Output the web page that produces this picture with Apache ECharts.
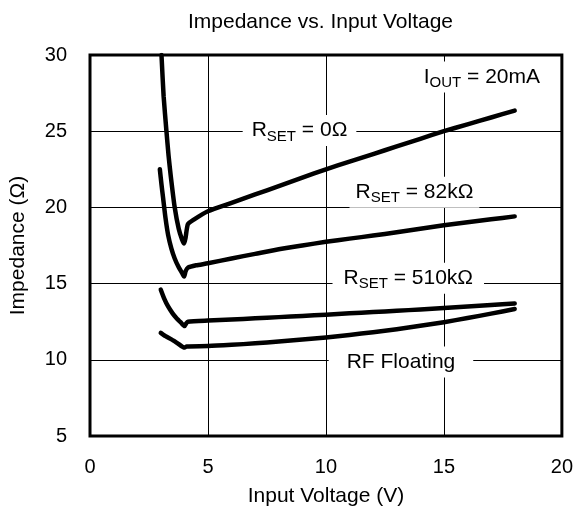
<!DOCTYPE html>
<html>
<head>
<meta charset="utf-8">
<title>Impedance vs. Input Voltage</title>
<script src="https://cdn.jsdelivr.net/npm/echarts@6/dist/echarts.min.js"></script>
<style>
  html, body { margin: 0; padding: 0; background: #fff; }
  #chart { width: 576px; height: 512px; }
</style>
</head>
<body>
<div id="chart"></div>
<script>
// values (V, Ohm)
const rset0V = [3.03, 3.12, 3.24, 3.33, 3.42, 3.59, 3.76, 3.9, 3.99, 4.05, 4.15, 4.4, 5, 6, 7, 8, 9, 10, 11, 12, 13, 14, 15, 16, 17, 18]
const rset0Z = [30, 27.3, 25, 23.4, 22.1, 20.0, 18.6, 17.9, 17.63, 18.0, 18.9, 19.2, 19.75, 20.3, 20.85, 21.4, 21.95, 22.5, 23.0, 23.5, 24.0, 24.5, 25.0, 25.45, 25.9, 26.35]

const rset82V = [2.96, 3.03, 3.1, 3.2, 3.31, 3.45, 3.59, 3.75, 3.9, 3.99, 4.05, 4.15, 4.5, 5, 6, 7, 8, 9, 10, 11, 12, 13, 14, 15, 16, 17, 18]
const rset82Z = [22.5, 21.5, 20.6, 19.3, 18.2, 17.3, 16.65, 16.1, 15.7, 15.46, 15.8, 16.05, 16.2, 16.33, 16.65, 16.95, 17.25, 17.5, 17.74, 17.95, 18.15, 18.37, 18.6, 18.83, 19.03, 19.22, 19.41]

const rset510V = [3.0, 3.15, 3.31, 3.5, 3.66, 3.85, 4.01, 4.08, 4.15, 5, 6, 7, 8, 9, 10, 11, 12, 13, 14, 15, 16, 17, 18]
const rset510Z = [14.6, 14.0, 13.5, 13.05, 12.75, 12.45, 12.21, 12.4, 12.5, 12.58, 12.65, 12.72, 12.8, 12.88, 12.96, 13.05, 13.13, 13.22, 13.3, 13.4, 13.5, 13.6, 13.7]

const rfFloatV = [3.0, 3.2, 3.45, 3.7, 4.01, 4.1, 5, 6, 7, 8, 9, 10, 11, 12, 13, 14, 15, 16, 17, 18]
const rfFloatZ = [11.77, 11.55, 11.34, 11.1, 10.8, 10.88, 10.9, 10.98, 11.08, 11.2, 11.33, 11.47, 11.63, 11.81, 12.01, 12.23, 12.47, 12.74, 13.03, 13.33]

// curve labels: text, anchor in data units, side padding
const notes = [
  { text: '{m|I}{s|OUT}{m| = 20mA}', at: [16.61, 28.55], pad: 5 },
  { text: '{m|R}{s|SET}{m| = 0Ω}', at: [8.88, 25.05], pad: 9 },
  { text: '{m|R}{s|SET}{m| = 82kΩ}', at: [13.75, 21.0], pad: 6 },
  { text: '{m|R}{s|SET}{m| = 510kΩ}', at: [13.49, 15.35], pad: 11 },
  { text: '{m|RF Floating}', at: [13.18, 9.85], pad: 18 }
]

const FONT = "'Liberation Sans', Arial, sans-serif"

function pairs(xs, ys) {
  return xs.map((x, i) => [x, ys[i]])
}

const chart = echarts.init(document.getElementById('chart'))

const lineStyle = { color: '#000', width: 4.5, cap: 'round', join: 'round' }

function curve(name, xs, ys) {
  return {
    name,
    type: 'line',
    data: pairs(xs, ys),
    showSymbol: false,
    smooth: 0.2,
    lineStyle,
    z: 3
  }
}

const series = [
  curve('RSET = 0Ω', rset0V, rset0Z),
  curve('RSET = 82kΩ', rset82V, rset82Z),
  curve('RSET = 510kΩ', rset510V, rset510Z),
  curve('RF Floating', rfFloatV, rfFloatZ)
]

series[0].markPoint = {
  symbol: 'rect',
  symbolSize: 0,
  silent: true,
  z: 2,
  data: notes.map(n => ({
    coord: n.at,
    label: {
      show: true,
      position: 'inside',
      formatter: n.text,
      backgroundColor: '#fff',
      padding: [2, n.pad],
      rich: {
        m: { fontSize: 21, fontFamily: FONT, color: '#000', lineHeight: 27 },
        s: { fontSize: 15, fontFamily: FONT, color: '#000', verticalAlign: 'bottom' }
      }
    }
  }))
}

chart.setOption({
  animation: false,
  backgroundColor: '#fff',
  title: {
    text: 'Impedance vs. Input Voltage',
    left: 188,
    top: 12,
    padding: 0,
    textStyle: { fontFamily: FONT, fontSize: 21, fontWeight: 'normal', color: '#000' }
  },
  grid: {
    left: 88,
    right: 13,
    top: 55,
    bottom: 73,
    show: true,
    borderColor: '#000',
    borderWidth: 3,
    backgroundColor: 'transparent'
  },
  xAxis: {
    type: 'value',
    min: 0,
    max: 20,
    interval: 5,
    name: 'Input Voltage (V)',
    nameLocation: 'middle',
    nameGap: 50,
    nameTextStyle: { fontFamily: FONT, fontSize: 21, color: '#000' },
    axisLine: { show: false },
    axisTick: { show: false },
    axisLabel: { margin: 21, fontFamily: FONT, fontSize: 20, color: '#000' },
    splitLine: { show: true, lineStyle: { color: '#000', width: 1 } }
  },
  yAxis: {
    type: 'value',
    min: 5,
    max: 30,
    interval: 5,
    name: 'Impedance (Ω)',
    nameLocation: 'middle',
    nameGap: 61,
    nameTextStyle: { fontFamily: FONT, fontSize: 21, color: '#000' },
    axisLine: { show: false },
    axisTick: { show: false },
    axisLabel: { margin: 23, fontFamily: FONT, fontSize: 20, color: '#000' },
    splitLine: { show: true, lineStyle: { color: '#000', width: 1 } }
  },
  series
})
</script>
</body>
</html>
